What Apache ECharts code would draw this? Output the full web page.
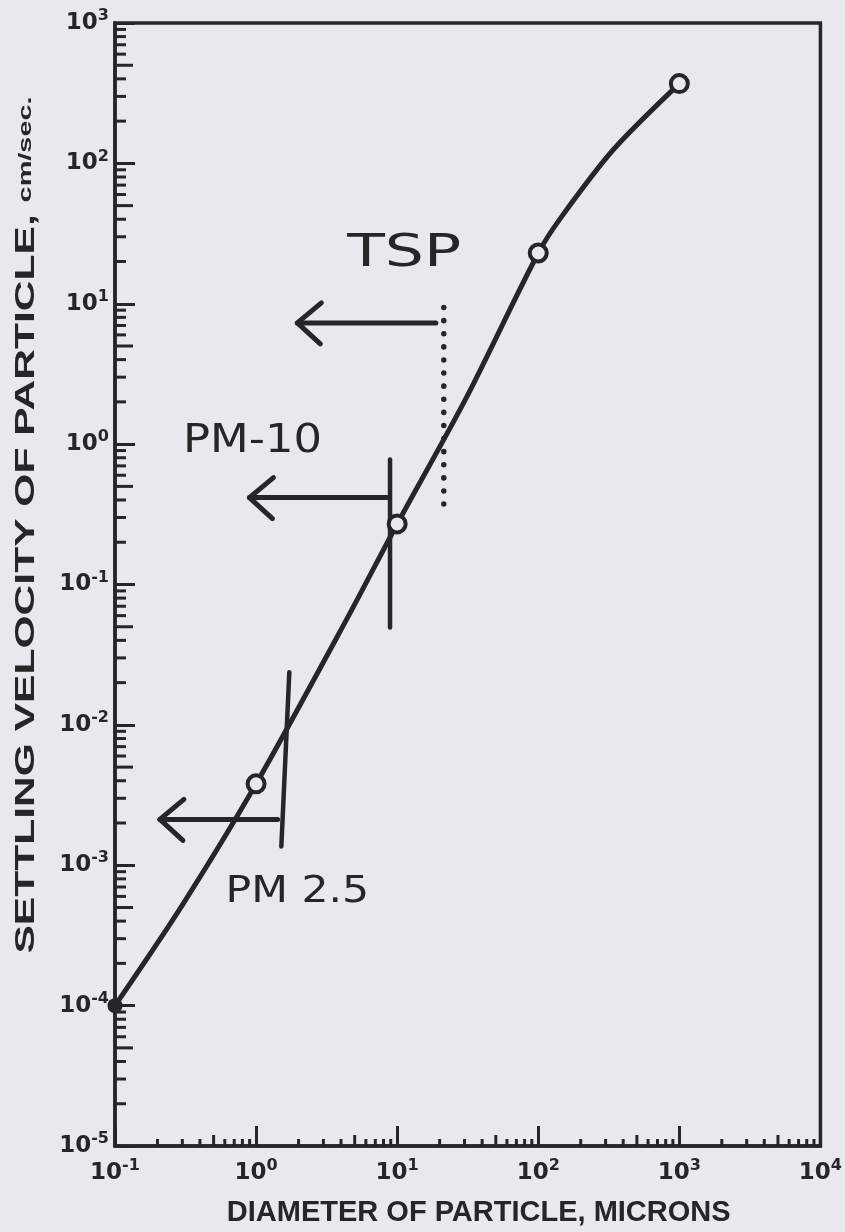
<!DOCTYPE html>
<html><head><meta charset="utf-8">
<script src="https://cdn.jsdelivr.net/npm/echarts@6/dist/echarts.min.js"></script>
<style>html,body{margin:0;padding:0;background:#e8e8ee;} #c{width:845px;height:1232px;}</style>
</head><body><div id="c"></div>
<script>
// ---- data ----
const curveX = [0.1, 0.3, 1, 4.57, 10, 30.6, 100, 146, 340, 1000];
const curveY = [1e-4, 5.2e-4, 3.8e-3, 0.061, 0.27, 2.1, 23, 41.6, 125, 370];
const markerX = [1, 10, 100, 1000];
const markerY = [3.8e-3, 0.27, 23, 370];
const startX = [0.1];
const startY = [1e-4];
const xDecades = [0.1, 1, 10, 100, 1000, 10000];
const yDecades = [1e-5, 1e-4, 1e-3, 1e-2, 1e-1, 1, 10, 100, 1000];
// annotation arrows: x of tail (right end), x of tip (left), y
const arrowTailX = [18.8, 8.47, 1.42];
const arrowTipX = [1.96, 0.897, 0.208];
const arrowY = [7.3, 0.416, 2.12e-3];
// cut-off bars: (x1, y1) -> (x2, y2)
const cutX1 = [8.9, 1.72];
const cutY1 = [0.776, 0.0237];
const cutX2 = [8.9, 1.51];
const cutY2 = [0.0494, 1.36e-3];
// TSP dotted line
const tspX = [21.4, 21.4];
const tspY = [9.4, 0.315];
// handwritten notes
const noteText = ['TSP', 'PM-10', 'PM 2.5'];
const noteX = [11.2, 0.944, 1.96];
const noteY = [22.3, 1.04, 6.4e-4];
const xTitle = 'DIAMETER OF PARTICLE, MICRONS';
const yTitleMain = 'SETTLING VELOCITY OF PARTICLE, ';
const yTitleUnit = 'cm/sec.';

// ---- styling ----
const INK = '#262628';
const BG = '#e8e8ee';
const X_MIN = xDecades[0], X_MAX = xDecades[xDecades.length - 1];
const Y_MIN = yDecades[0], Y_MAX = yDecades[yDecades.length - 1];

const xMinor = [], yMinor = [];
for (let i = 0; i < xDecades.length - 1; i++) for (let k = 2; k <= 9; k++) xMinor.push([xDecades[i] * k, k]);
for (let i = 0; i < yDecades.length - 1; i++) for (let k = 2; k <= 9; k++) yMinor.push([yDecades[i] * k, k]);

function expLabel(v) {
  const e = Math.round(Math.log10(v));
  return '{b|10}{s|' + e + '}';
}
const labelRich = {
  b: { fontFamily: 'DejaVu Sans', fontWeight: 'bold', fontSize: 23, color: INK, lineHeight: 26 },
  s: { fontFamily: 'DejaVu Sans', fontWeight: 'bold', fontSize: 16, color: INK, padding: [0, 0, 14, 0] }
};

const chart = echarts.init(document.getElementById('c'), null, { renderer: 'canvas' });
const option = {
  backgroundColor: BG,
  animation: false,
  grid: { left: 115, right: 22, top: 23, bottom: 85, show: true, borderColor: INK, borderWidth: 3.5, backgroundColor: 'transparent' },
  xAxis: {
    type: 'log', logBase: 10, min: X_MIN, max: X_MAX, splitNumber: 5,
    axisLine: { show: true, lineStyle: { color: INK, width: 3.5 } },
    axisTick: { show: true, inside: true, length: 20, lineStyle: { color: INK, width: 3 } },
    splitLine: { show: false },
    axisLabel: { margin: 12, formatter: expLabel, rich: labelRich, color: INK },
    name: xTitle, nameLocation: 'middle', nameGap: 52,
    nameTextStyle: { fontFamily: 'Liberation Sans', fontWeight: 'bold', fontSize: 29, color: INK, padding: [0, 0, 0, 22] }
  },
  yAxis: {
    type: 'log', logBase: 10, min: Y_MIN, max: Y_MAX, splitNumber: 8,
    axisLine: { show: true, lineStyle: { color: INK, width: 3.5 } },
    axisTick: { show: true, inside: true, length: 20, lineStyle: { color: INK, width: 3 } },
    splitLine: { show: false },
    axisLabel: { margin: 6, formatter: expLabel, rich: labelRich, color: INK }
  },
  graphic: [{
    type: 'text', x: 26, y: 525, rotation: Math.PI / 2, scaleX: 1.52,
    style: {
      text: '{u|' + yTitleMain + '}{l|' + yTitleUnit + '}',
      align: 'center', verticalAlign: 'middle',
      rich: {
        u: { fontFamily: 'Liberation Sans', fontWeight: 'bold', fontSize: 28, fill: INK },
        l: { fontFamily: 'Liberation Sans', fontWeight: 'bold', fontSize: 19, fill: INK }
      }
    }
  }],
  series: [
    { type: 'custom', clip: false, silent: true, z: 2,
      data: xMinor,
      renderItem: function (params, api) {
        const p = api.coord([api.value(0), Y_MIN]);
        const len = api.value(1) === 5 ? 11 : 7;
        return { type: 'line', shape: { x1: p[0], y1: p[1], x2: p[0], y2: p[1] - len }, style: { stroke: INK, lineWidth: 3 } };
      } },
    { type: 'custom', clip: false, silent: true, z: 2,
      data: yMinor,
      renderItem: function (params, api) {
        const p = api.coord([X_MIN, api.value(0)]);
        const len = api.value(1) === 5 ? 18 : 11;
        return { type: 'line', shape: { x1: p[0], y1: p[1], x2: p[0] + len, y2: p[1] }, style: { stroke: INK, lineWidth: 3 } };
      } },
    { type: 'line', data: curveX.map((x, i) => [x, curveY[i]]), smooth: 0.3, showSymbol: false, symbol: 'none',
      lineStyle: { color: INK, width: 5 }, z: 3 },
    { type: 'scatter', data: markerX.map((x, i) => [x, markerY[i]]), symbol: 'circle', symbolSize: 17,
      itemStyle: { color: BG, borderColor: INK, borderWidth: 4, opacity: 1 }, z: 5 },
    { type: 'scatter', data: startX.map((x, i) => [x, startY[i]]), symbol: 'circle', symbolSize: 15,
      itemStyle: { color: INK, opacity: 1 }, z: 5 },
    // arrows
    { type: 'custom', clip: false, silent: true, z: 4,
      data: arrowTailX.map((x, i) => [x, arrowTipX[i], arrowY[i]]),
      renderItem: function (params, api) {
        const a = api.coord([api.value(0), api.value(2)]);
        const b = api.coord([api.value(1), api.value(2)]);
        const st = { stroke: INK, lineWidth: 5, fill: null, lineCap: 'round', lineJoin: 'round' };
        return { type: 'group', children: [
          { type: 'line', shape: { x1: a[0], y1: a[1], x2: b[0], y2: b[1] }, style: st },
          { type: 'polyline', shape: { points: [[b[0] + 24, b[1] - 20], [b[0], b[1]], [b[0] + 23, b[1] + 21]] }, style: st }
        ] };
      } },
    // cut-off bars
    { type: 'custom', clip: false, silent: true, z: 4,
      data: cutX1.map((x, i) => [x, cutY1[i], cutX2[i], cutY2[i]]),
      renderItem: function (params, api) {
        const a = api.coord([api.value(0), api.value(1)]);
        const b = api.coord([api.value(2), api.value(3)]);
        return { type: 'line', shape: { x1: a[0], y1: a[1], x2: b[0], y2: b[1] }, style: { stroke: INK, lineWidth: 4.5, lineCap: 'round' } };
      } },
    // TSP dotted line
    { type: 'line', data: tspX.map((x, i) => [x, tspY[i]]), showSymbol: false, symbol: 'none',
      lineStyle: { color: INK, width: 5.5, type: [0.1, 13], cap: 'round' }, z: 4 },
    // handwritten notes
    { type: 'custom', clip: false, silent: true, z: 4,
      data: noteX.map((x, i) => [x, noteY[i], i]),
      renderItem: function (params, api) {
        const i = api.value(2);
        const p = api.coord([api.value(0), api.value(1)]);
        const sizes = [44, 39, 38];
        const sx = [1.4, 1.15, 1.12];
        return { type: 'text', x: p[0], y: p[1], scaleX: sx[i],
          style: { text: noteText[i], fontFamily: 'DejaVu Sans', fontSize: sizes[i], fill: INK, align: 'center', verticalAlign: 'middle' } };
      } }
  ]
};
chart.setOption(option);
</script>
</body></html>
